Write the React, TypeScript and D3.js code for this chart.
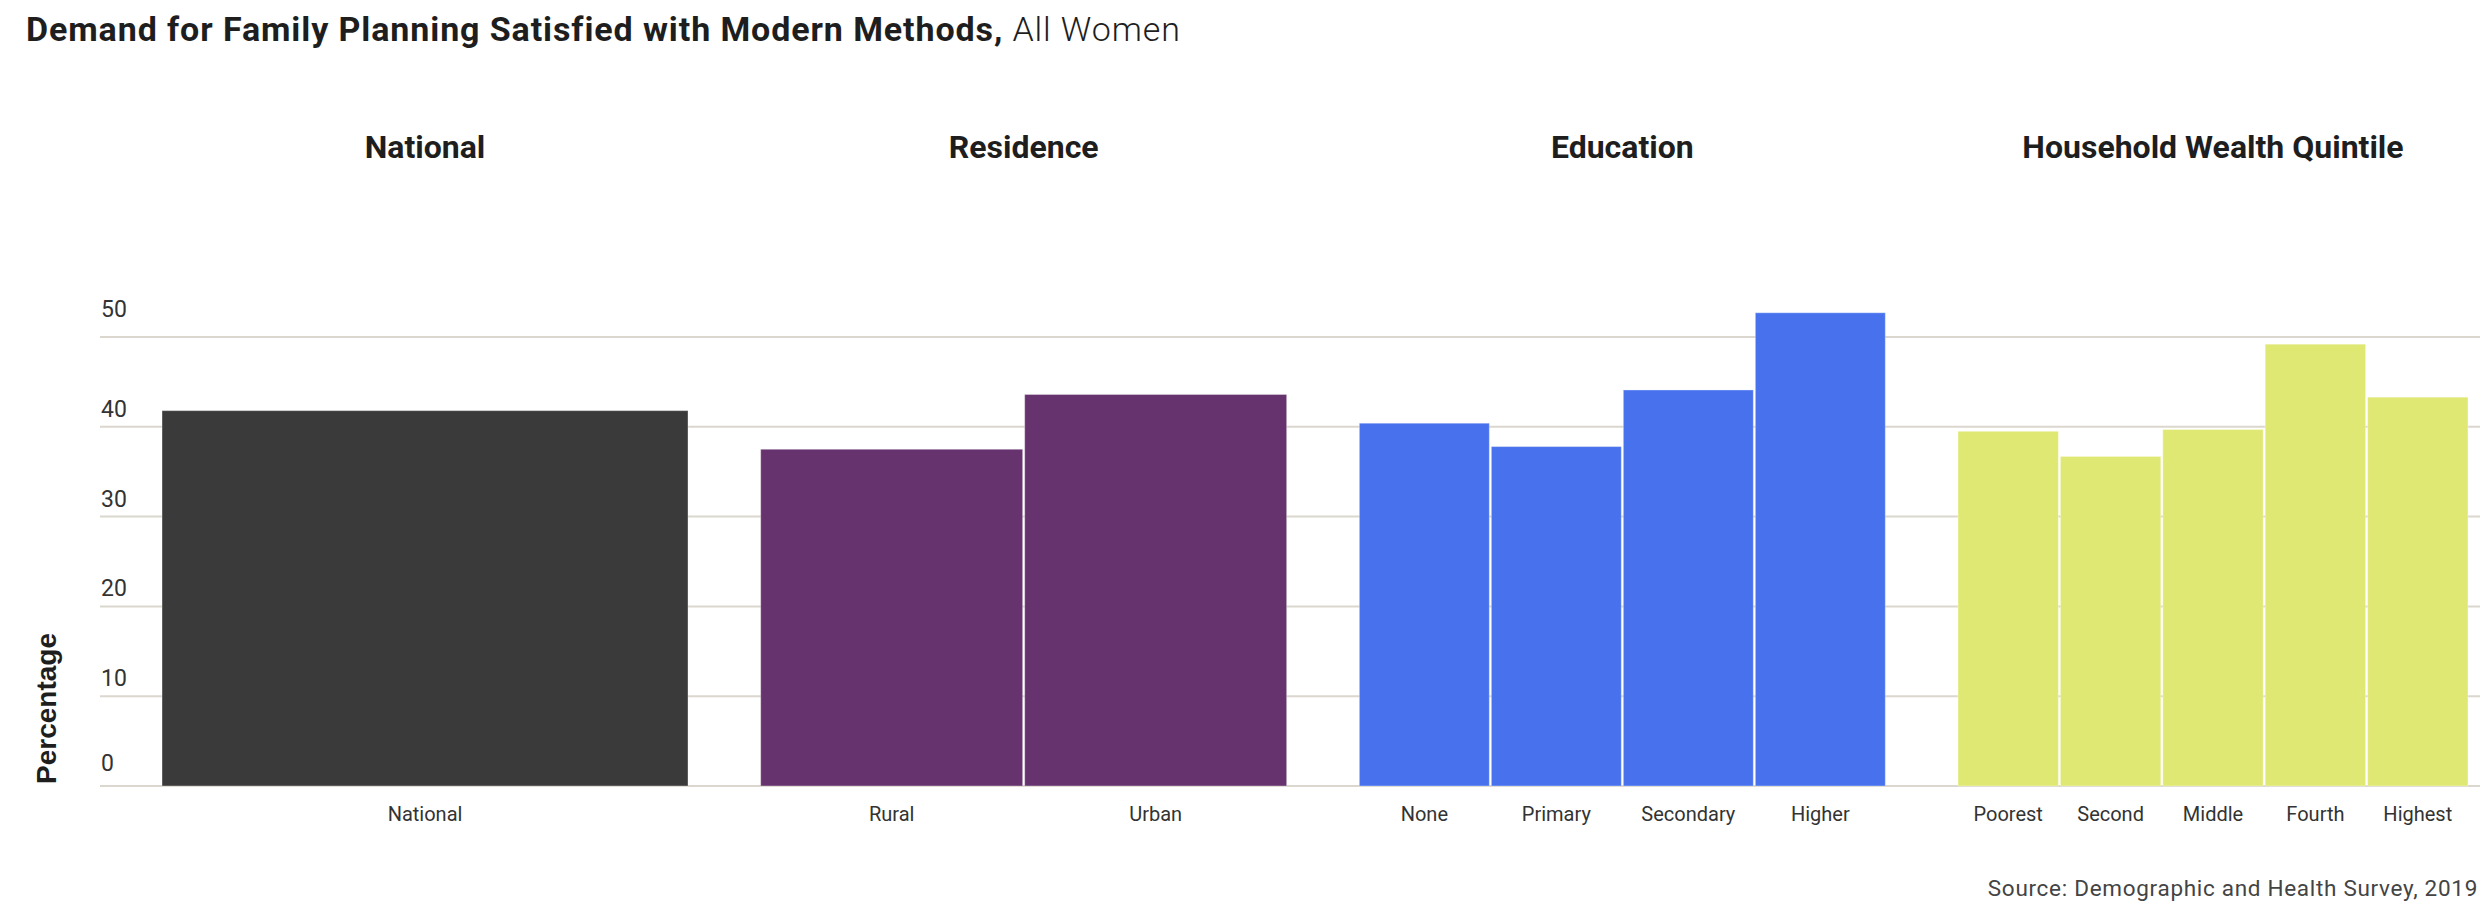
import React from "react";
import * as d3 from "d3";

const groups = ["National", "Residence", "Education", "Household Wealth Quintile"];
const groupColors = ["#3a3a3a", "#66336f", "#4872ed", "#e0e874"];
const nationalCats = ["National"];
const nationalVals = [41.8];
const residenceCats = ["Rural", "Urban"];
const residenceVals = [37.5, 43.6];
const educationCats = ["None", "Primary", "Secondary", "Higher"];
const educationVals = [40.4, 37.8, 44.1, 52.7];
const wealthCats = ["Poorest", "Second", "Middle", "Fourth", "Highest"];
const wealthVals = [39.5, 36.7, 39.7, 49.2, 43.3];
const yTicks = [0, 10, 20, 30, 40, 50];

const groupCats = [nationalCats, residenceCats, educationCats, wealthCats];
const groupVals = [nationalVals, residenceVals, educationVals, wealthVals];

const W = 2480;
const H = 916;
const plotLeft = 100;
const plotRight = 2468;
const FONT = "Roboto, 'Noto Sans', sans-serif";

export default function App() {
  const y = d3.scaleLinear().domain([0, 50]).range([786, 337]);
  const outer = d3
    .scaleBand<string>()
    .domain(groups)
    .range([plotLeft, 2546])
    .paddingInner(0.1214)
    .paddingOuter(0.1036);

  return (
    <svg
      width={W}
      height={H}
      style={{ position: "absolute", left: 0, top: 0, background: "#fff" }}
    >
      <text x={26} y={41} fontFamily={FONT} fontSize={34} letterSpacing={0.9} fill="#1e1e1e">
        <tspan fontWeight={700}>Demand for Family Planning Satisfied with Modern Methods,</tspan>
        <tspan fontWeight={300}> All Women</tspan>
      </text>

      {yTicks.map((t, i) => (
        <g key={t}>
          <line
            x1={plotLeft}
            x2={W}
            y1={y(t)}
            y2={y(t)}
            stroke="#dbd7ce"
            strokeWidth={2}
          />
          <text
            x={plotLeft + 1}
            y={y(t) - (i === yTicks.length - 1 ? 20 : i === 0 ? 15 : 10)}
            fontFamily={FONT}
            fontSize={23}
            fontWeight={400}
            fill="#333"
          >
            {t}
          </text>
        </g>
      ))}

      <text
        transform={`translate(56,784) rotate(-90)`}
        fontFamily="'Liberation Sans', Arial, sans-serif"
        fontWeight={700}
        fontSize={28}
        fill="#1e1e1e"
      >
        Percentage
      </text>

      {groups.map((g, gi) => {
        const x0 = outer(g) as number;
        const x1 = Math.min(x0 + outer.bandwidth(), plotRight);
        const cats = groupCats[gi];
        const vals = groupVals[gi];
        const step = (x1 - x0) / cats.length;
        const inner = d3
          .scaleBand<string>()
          .domain(cats)
          .range([x0, x1])
          .paddingInner(cats.length > 1 ? 2 / step : 0)
          .paddingOuter(0);
        return (
          <g key={g}>
            <text
              x={(x0 + x1) / 2}
              y={158}
              textAnchor="middle"
              fontFamily={FONT}
              fontWeight={700}
              fontSize={32}
              fill="#1e1e1e"
            >
              {g}
            </text>
            {cats.map((c, ci) => {
              const bx = inner(c) as number;
              const bw = inner.bandwidth();
              return (
                <g key={c}>
                  <rect
                    x={bx}
                    y={y(vals[ci])}
                    width={bw}
                    height={y(0) - y(vals[ci])}
                    fill={groupColors[gi]}
                    stroke="rgba(255,255,255,0.35)"
                    strokeWidth={1}
                  />
                  <text
                    x={bx + bw / 2}
                    y={821}
                    textAnchor="middle"
                    fontFamily={FONT}
                    fontSize={20}
                    fill="#333"
                  >
                    {c}
                  </text>
                </g>
              );
            })}
          </g>
        );
      })}

      <text
        x={2478}
        y={896}
        textAnchor="end"
        fontFamily={FONT}
        fontSize={22.5}
        letterSpacing={0.7}
        fill="#444"
      >
        Source: Demographic and Health Survey, 2019
      </text>
    </svg>
  );
}
